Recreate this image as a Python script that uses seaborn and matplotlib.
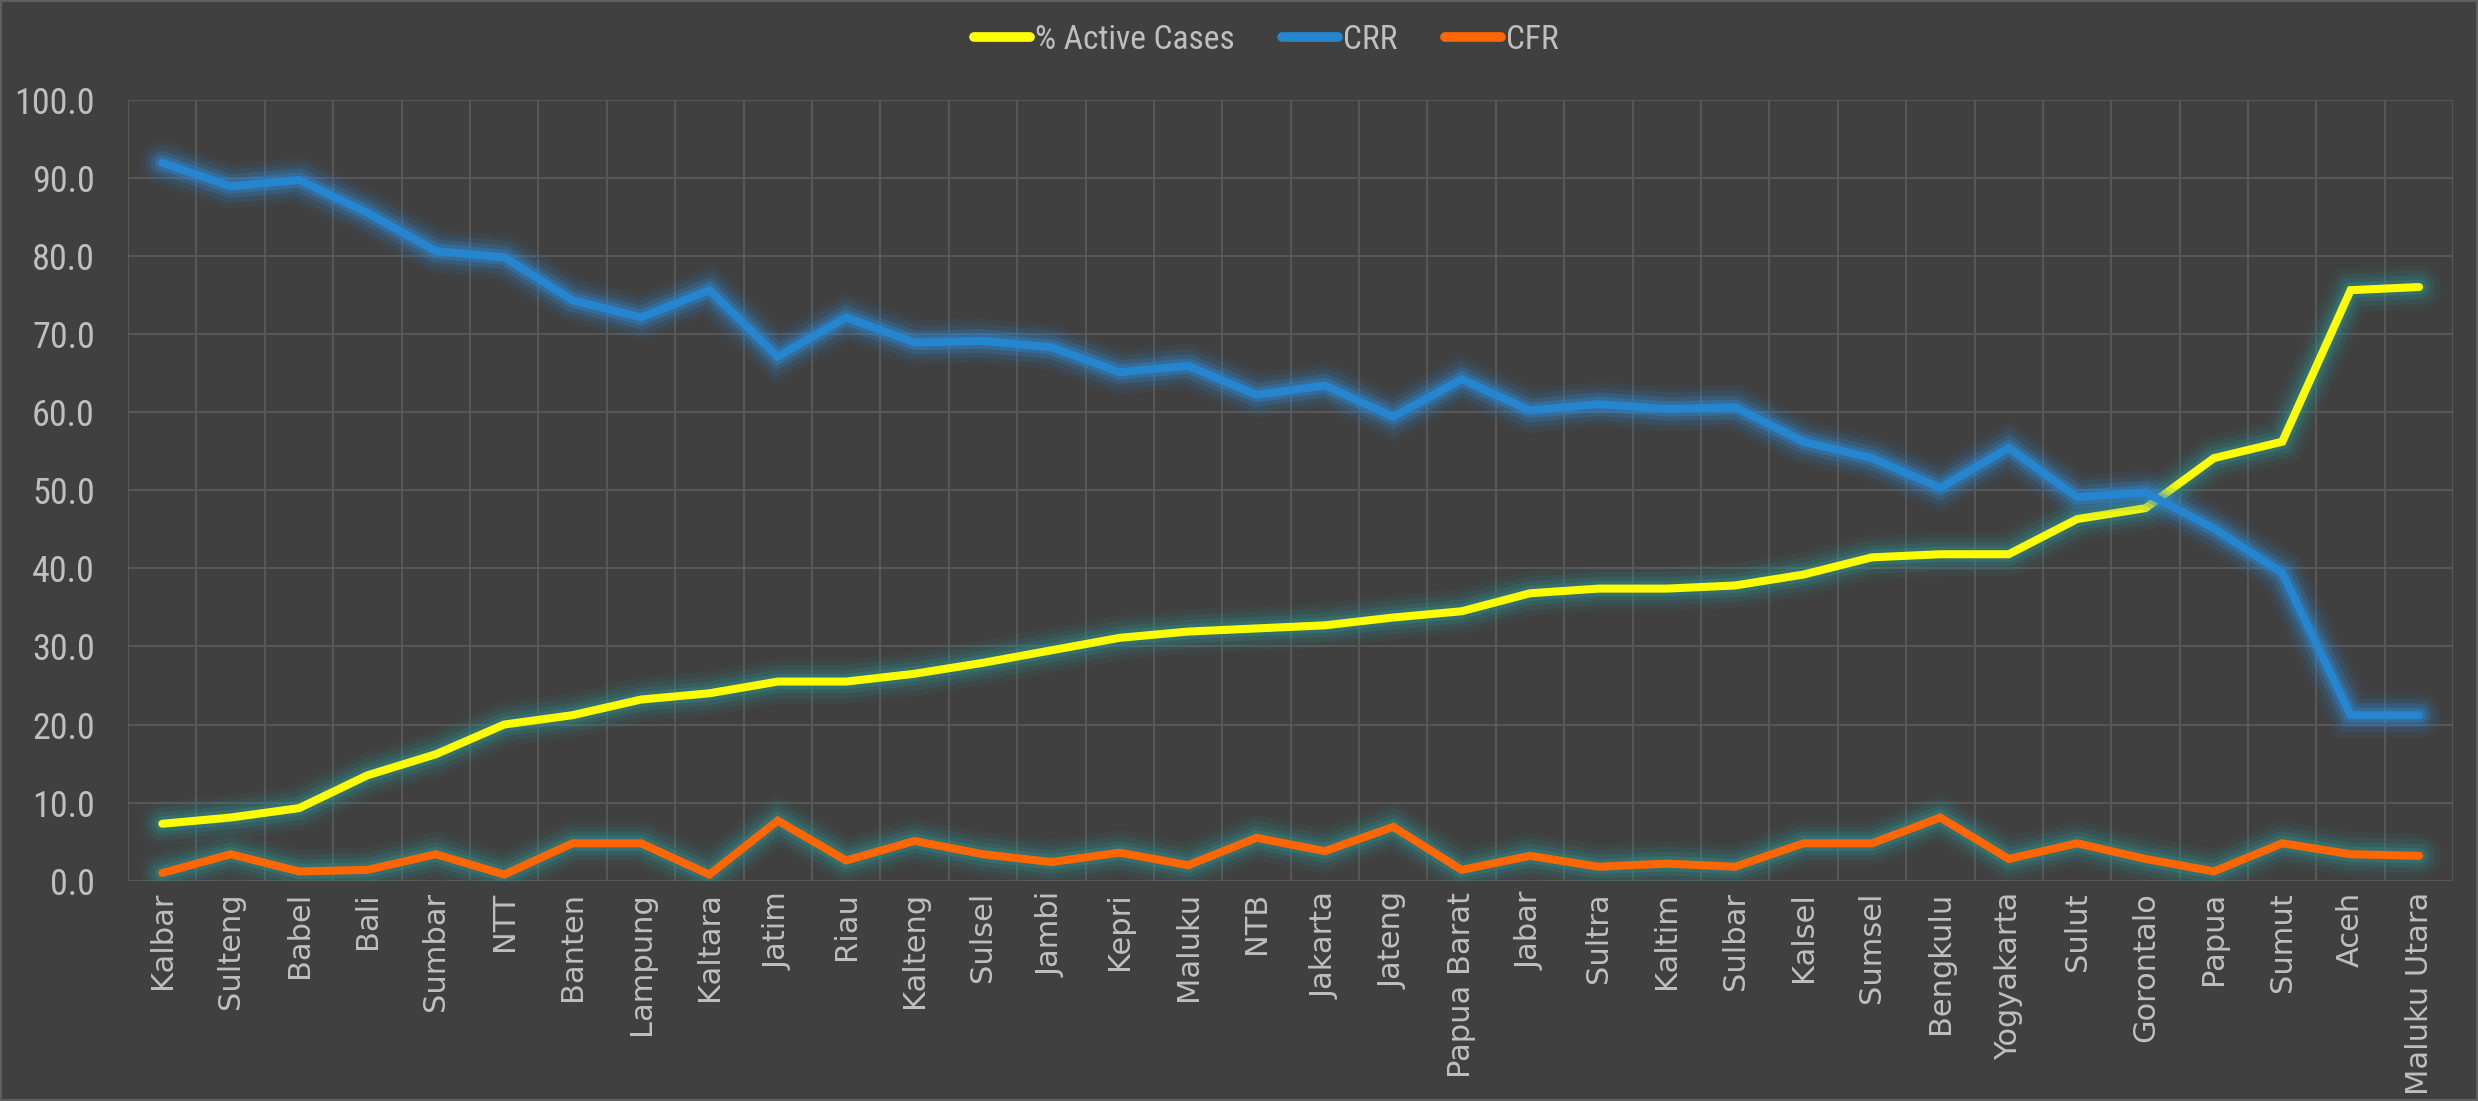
import pandas as pd
import seaborn as sns
import matplotlib.pyplot as plt
import matplotlib.patheffects as pe
from matplotlib.lines import Line2D
from matplotlib.ticker import FixedLocator, FormatStrFormatter

provinces = ['Kalbar', 'Sulteng', 'Babel', 'Bali', 'Sumbar', 'NTT', 'Banten', 'Lampung', 'Kaltara',
             'Jatim', 'Riau', 'Kalteng', 'Sulsel', 'Jambi', 'Kepri', 'Maluku', 'NTB', 'Jakarta',
             'Jateng', 'Papua Barat', 'Jabar', 'Sultra', 'Kaltim', 'Sulbar', 'Kalsel', 'Sumsel',
             'Bengkulu', 'Yogyakarta', 'Sulut', 'Gorontalo', 'Papua', 'Sumut', 'Aceh', 'Maluku Utara']

active = [7.3, 8.1, 9.3, 13.5, 16.2, 20.0, 21.2, 23.2, 24.0, 25.5, 25.5, 26.5, 27.9, 29.5, 31.1, 31.9,
          32.3, 32.7, 33.7, 34.5, 36.8, 37.4, 37.4, 37.8, 39.2, 41.4, 41.8, 41.8, 46.3, 47.7, 54.1,
          56.2, 75.6, 76.0]
crr = [91.9, 88.9, 89.7, 85.5, 80.6, 79.8, 74.3, 72.1, 75.6, 67.1, 72.1, 68.9, 69.1, 68.3, 65.1, 65.9,
       62.2, 63.4, 59.4, 64.2, 60.2, 61.0, 60.4, 60.6, 56.2, 54.1, 50.3, 55.4, 49.1, 49.7, 45.1,
       39.4, 21.2, 21.2]
cfr = [1.0, 3.4, 1.2, 1.4, 3.4, 0.8, 4.8, 4.8, 0.8, 7.7, 2.6, 5.1, 3.4, 2.4, 3.6, 2.0,
       5.5, 3.8, 6.9, 1.4, 3.2, 1.8, 2.2, 1.8, 4.8, 4.8, 8.1, 2.8, 4.8, 2.8, 1.2,
       4.8, 3.4, 3.2]

series = ['% Active Cases', 'CRR', 'CFR']
colors = ['#FFFF00', '#2585CF', '#FF6600']
glows = ['#2f8f8f', '#2f8ad8', '#2f8f8f']

df = pd.DataFrame({'Province': provinces, '% Active Cases': active, 'CRR': crr, 'CFR': cfr})
df['pos'] = range(len(df))
long = df.melt(id_vars=['Province', 'pos'], value_vars=series, var_name='Series', value_name='Value')

bg = '#404040'
grid = '#575757'
txt = '#BFBFBF'
narrow = ['Roboto Condensed', 'Roboto', 'DejaVu Sans']

sns.set_style('dark')
fig, ax = plt.subplots(figsize=(24.78, 11.01), dpi=100)
fig.patch.set_facecolor(bg)
ax.set_facecolor(bg)
fig.subplots_adjust(left=0.0517, right=0.99, bottom=0.2, top=0.9096)

sns.lineplot(data=long, x='pos', y='Value', hue='Series', hue_order=series,
             palette=dict(zip(series, colors)), linewidth=5.8, ax=ax, legend=False)

# soft glow under each line
for line, g in zip(ax.get_lines(), glows):
    line.set_solid_capstyle('round')
    line.set_solid_joinstyle('miter')
    line.set_path_effects([
        pe.Stroke(linewidth=32, foreground=g, alpha=0.08),
        pe.Stroke(linewidth=24, foreground=g, alpha=0.14),
        pe.Stroke(linewidth=17, foreground=g, alpha=0.22),
        pe.Stroke(linewidth=11, foreground=g, alpha=0.35),
        pe.Normal(),
    ])

ax.set_xlim(-0.5, len(provinces) - 0.5)
ax.set_ylim(0, 100)
ax.yaxis.set_major_locator(FixedLocator([i * 10 for i in range(11)]))
ax.yaxis.set_major_formatter(FormatStrFormatter('%.1f'))
ax.set_xticks(range(len(provinces)))
ax.set_xticklabels(provinces, rotation=90, fontsize=22, color=txt, family='DejaVu Sans')
ax.xaxis.set_minor_locator(FixedLocator([i - 0.5 for i in range(len(provinces) + 1)]))
for lab in ax.get_yticklabels():
    lab.set_fontsize(26)
    lab.set_color(txt)
    lab.set_family(narrow)
ax.tick_params(axis='both', which='both', length=0)
ax.tick_params(axis='y', pad=24)
ax.tick_params(axis='x', pad=8)
ax.grid(False)
ax.grid(True, axis='y', which='major', color=grid, linewidth=1.5)
ax.grid(True, axis='x', which='minor', color=grid, linewidth=1.5)
ax.set_axisbelow(True)
for s in ax.spines.values():
    s.set_visible(False)
ax.set_xlabel('')
ax.set_ylabel('')

handles = [Line2D([0], [0], color=c, linewidth=7, solid_capstyle='round') for c in colors]
leg = fig.legend(handles, series, loc='center', bbox_to_anchor=(0.511, 0.964), ncol=3, frameon=False,
                 handlelength=1.7, handletextpad=0.15, columnspacing=1.4,
                 prop={'family': narrow, 'size': 24})
for t in leg.get_texts():
    t.set_color(txt)

# thin light frame round the whole picture
fig.add_artist(plt.Rectangle((0, 0), 1, 1, transform=fig.transFigure, fill=False,
                             edgecolor='#5e5e5e', linewidth=3))

fig.savefig('out.png', dpi=100, facecolor=bg)
